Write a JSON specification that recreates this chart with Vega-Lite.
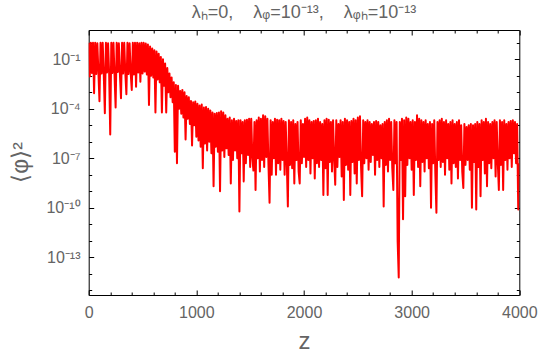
{
"$schema": "https://vega.github.io/schema/vega-lite/v6.json",
"autosize": "none",
"width": 430.6,
"height": 265,
"padding": {"left": 88.7, "top": 30, "right": 20.7, "bottom": 61},
"title": {"text": "λₕ=0,\u00a0\u00a0\u00a0\u00a0λᵩ=10⁻¹³,\u00a0\u00a0\u00a0\u00a0λᵩₕ=10⁻¹³", "fontSize": 18, "font": "Liberation Sans", "fontWeight": "normal", "color": "#646464", "offset": 8, "dx": 0},
"data": {"values": [
{"z":0,"v":1},{"z":10,"v":0.009},{"z":20,"v":1},{"z":30,"v":0.015},{"z":40,"v":1},{"z":50,"v":8.7e-4},{"z":60,"v":1},{"z":70,"v":0.013},{"z":80,"v":0.95},{"z":90,"v":0.018},
{"z":100,"v":2.9e-4},{"z":110,"v":1},{"z":120,"v":0.014},{"z":130,"v":1},{"z":140,"v":0.012},{"z":150,"v":5.4e-5},{"z":160,"v":1},{"z":170,"v":0.016},{"z":180,"v":0.95},{"z":190,"v":0.013},
{"z":200,"v":2.8e-6},{"z":210,"v":1},{"z":220,"v":0.015},{"z":230,"v":1},{"z":240,"v":0.011},{"z":250,"v":1.2e-4},{"z":260,"v":1},{"z":270,"v":0.017},{"z":280,"v":0.95},{"z":290,"v":0.012},
{"z":300,"v":4.4e-4},{"z":310,"v":1},{"z":320,"v":0.014},{"z":330,"v":1},{"z":340,"v":0.016},{"z":350,"v":7.6e-4},{"z":360,"v":1},{"z":370,"v":0.013},{"z":380,"v":0.95},{"z":390,"v":0.015},
{"z":400,"v":1.4e-3},{"z":410,"v":1},{"z":420,"v":0.012},{"z":430,"v":1},{"z":440,"v":2.2e-3},{"z":450,"v":1},{"z":460,"v":0.016},{"z":470,"v":0.95},{"z":480,"v":4.4e-3},{"z":490,"v":1},
{"z":500,"v":0.014},{"z":510,"v":1},{"z":520,"v":0.018},{"z":530,"v":0.9},{"z":540,"v":0.012},{"z":550,"v":0.8},{"z":560,"v":1.7e-4},{"z":570,"v":0.6},{"z":580,"v":0.01},{"z":590,"v":0.45},
{"z":600,"v":0.008},{"z":610,"v":0.35},{"z":620,"v":6e-5},{"z":630,"v":0.3},{"z":640,"v":0.006},{"z":650,"v":0.22},{"z":660,"v":0.004},{"z":670,"v":0.14},{"z":680,"v":6e-5},{"z":690,"v":0.1},
{"z":700,"v":0.0025},{"z":710,"v":0.056},{"z":720,"v":6e-5},{"z":730,"v":0.03},{"z":740,"v":0.001},{"z":750,"v":0.014},{"z":760,"v":5e-4},{"z":770,"v":0.008},{"z":780,"v":2.5e-4},{"z":790,"v":0.004},
{"z":800,"v":2.5e-7},{"z":810,"v":0.0028},{"z":820,"v":5e-8},{"z":830,"v":0.0025},{"z":840,"v":1e-4},{"z":850,"v":0.0012},{"z":860,"v":5e-5},{"z":870,"v":0.0014},{"z":880,"v":3e-5},{"z":890,"v":0.001},
{"z":900,"v":1.4e-6},{"z":910,"v":6e-4},{"z":920,"v":2.5e-5},{"z":930,"v":5e-4},{"z":940,"v":1.2e-5},{"z":950,"v":3e-4},{"z":960,"v":6e-7},{"z":970,"v":2.5e-4},{"z":980,"v":1e-5},{"z":990,"v":2.8e-4},
{"z":1000,"v":2e-6},{"z":1010,"v":2e-4},{"z":1020,"v":1.2e-6},{"z":1030,"v":1.6e-4},{"z":1040,"v":5e-7},{"z":1050,"v":1.8e-4},{"z":1060,"v":2.5e-8},{"z":1070,"v":1.2e-4},{"z":1080,"v":8e-7},{"z":1090,"v":1.3e-4},
{"z":1100,"v":3e-7},{"z":1110,"v":1e-4},{"z":1120,"v":1e-6},{"z":1130,"v":8e-5},{"z":1140,"v":2e-7},{"z":1150,"v":6e-5},{"z":1160,"v":2e-9},{"z":1170,"v":5e-5},{"z":1180,"v":5e-7},{"z":1190,"v":5.6e-5},
{"z":1200,"v":2.5e-7},{"z":1210,"v":6e-5},{"z":1220,"v":1e-9},{"z":1230,"v":7e-5},{"z":1240,"v":3e-7},{"z":1250,"v":6e-5},{"z":1260,"v":1.2e-7},{"z":1270,"v":4e-5},{"z":1280,"v":4e-7},{"z":1290,"v":2.5e-5},
{"z":1300,"v":1.6e-7},{"z":1310,"v":3e-5},{"z":1320,"v":3e-9},{"z":1330,"v":2e-5},{"z":1340,"v":8e-8},{"z":1350,"v":2.5e-5},{"z":1360,"v":3e-7},{"z":1370,"v":1.8e-5},{"z":1380,"v":1e-7},{"z":1390,"v":2e-5},
{"z":1400,"v":6e-11},{"z":1410,"v":2e-5},{"z":1420,"v":2e-7},{"z":1430,"v":1.6e-5},{"z":1440,"v":4e-9},{"z":1450,"v":2e-5},{"z":1460,"v":5e-8},{"z":1470,"v":2.2e-5},{"z":1480,"v":1.6e-7},{"z":1490,"v":2.5e-5},
{"z":1500,"v":3e-8},{"z":1510,"v":2.5e-5},{"z":1520,"v":1.2e-7},{"z":1530,"v":1.8e-8},{"z":1540,"v":1.6e-5},{"z":1550,"v":1.2e-9},{"z":1560,"v":2e-5},{"z":1570,"v":1e-7},{"z":1580,"v":3e-5},{"z":1590,"v":1.6e-8},
{"z":1600,"v":2.5e-5},{"z":1610,"v":8e-8},{"z":1620,"v":4e-5},{"z":1630,"v":3e-8},{"z":1640,"v":3.5e-5},{"z":1650,"v":1.2e-7},{"z":1660,"v":2.5e-5},{"z":1670,"v":4e-8},{"z":1680,"v":2e-10},{"z":1690,"v":2e-5},
{"z":1700,"v":1e-8},{"z":1710,"v":1.6e-5},{"z":1720,"v":1e-7},{"z":1730,"v":2.5e-5},{"z":1740,"v":1e-8},{"z":1750,"v":2.2e-5},{"z":1760,"v":5e-8},{"z":1770,"v":2e-5},{"z":1780,"v":2e-8},{"z":1790,"v":2.5e-5},
{"z":1800,"v":8e-8},{"z":1810,"v":1.8e-5},{"z":1820,"v":1e-8},{"z":1830,"v":1.6e-5},{"z":1840,"v":6e-8},{"z":1850,"v":1.2e-10},{"z":1860,"v":2e-5},{"z":1870,"v":4e-8},{"z":1880,"v":1.6e-5},{"z":1890,"v":2.5e-8},
{"z":1900,"v":2e-5},{"z":1910,"v":3e-9},{"z":1920,"v":1.2e-5},{"z":1930,"v":8e-8},{"z":1940,"v":1.6e-5},{"z":1950,"v":1.6e-8},{"z":1960,"v":3e-9},{"z":1970,"v":2e-5},{"z":1980,"v":5e-8},{"z":1990,"v":1.2e-5},
{"z":2000,"v":1.2e-7},{"z":2010,"v":2.5e-5},{"z":2020,"v":3e-8},{"z":2030,"v":3e-5},{"z":2040,"v":8e-8},{"z":2050,"v":2e-5},{"z":2060,"v":1.2e-8},{"z":2070,"v":1.6e-5},{"z":2080,"v":1e-7},{"z":2090,"v":1.8e-5},
{"z":2100,"v":6e-9},{"z":2110,"v":2e-5},{"z":2120,"v":5e-8},{"z":2130,"v":2.5e-5},{"z":2140,"v":3e-8},{"z":2150,"v":1.6e-5},{"z":2160,"v":8e-8},{"z":2170,"v":1.2e-5},{"z":2180,"v":6e-10},{"z":2190,"v":2e-5},
{"z":2200,"v":2.5e-8},{"z":2210,"v":2.5e-5},{"z":2220,"v":6e-10},{"z":2230,"v":2.2e-5},{"z":2240,"v":6e-8},{"z":2250,"v":1.6e-5},{"z":2260,"v":1.6e-8},{"z":2270,"v":2e-5},{"z":2280,"v":1e-7},{"z":2290,"v":2.5e-9},
{"z":2300,"v":2e-5},{"z":2310,"v":3e-8},{"z":2320,"v":1.2e-5},{"z":2330,"v":1.2e-7},{"z":2340,"v":2e-5},{"z":2350,"v":8e-9},{"z":2360,"v":1.6e-5},{"z":2370,"v":3e-10},{"z":2380,"v":2.5e-5},{"z":2390,"v":4e-8},
{"z":2400,"v":2e-5},{"z":2410,"v":2e-8},{"z":2420,"v":1.6e-5},{"z":2430,"v":6e-10},{"z":2440,"v":1.8e-5},{"z":2450,"v":6e-8},{"z":2460,"v":2.5e-5},{"z":2470,"v":1.2e-8},{"z":2480,"v":2e-5},{"z":2490,"v":3e-9},
{"z":2500,"v":3e-5},{"z":2510,"v":8e-8},{"z":2520,"v":3.5e-5},{"z":2530,"v":3e-8},{"z":2540,"v":5e-10},{"z":2550,"v":2e-5},{"z":2560,"v":5e-8},{"z":2570,"v":1.6e-5},{"z":2580,"v":1e-7},{"z":2590,"v":2e-5},
{"z":2600,"v":2e-8},{"z":2610,"v":1.6e-5},{"z":2620,"v":6e-8},{"z":2630,"v":1.2e-5},{"z":2640,"v":1.6e-7},{"z":2650,"v":1.6e-5},{"z":2660,"v":1e-8},{"z":2670,"v":1.8e-5},{"z":2680,"v":8e-8},{"z":2690,"v":1.6e-5},
{"z":2700,"v":3e-8},{"z":2710,"v":1e-5},{"z":2720,"v":1e-7},{"z":2730,"v":1.2e-5},{"z":2740,"v":1.2e-10},{"z":2750,"v":1.6e-5},{"z":2760,"v":4e-8},{"z":2770,"v":2e-5},{"z":2780,"v":1.6e-8},{"z":2790,"v":2.5e-5},
{"z":2800,"v":8e-8},{"z":2810,"v":1.6e-5},{"z":2820,"v":2.5e-8},{"z":2830,"v":1.2e-9},{"z":2840,"v":2e-5},{"z":2850,"v":5e-8},{"z":2860,"v":1.6e-5},{"z":2870,"v":9e-13},{"z":2880,"v":6e-15},{"z":2890,"v":1.6e-5},
{"z":2900,"v":8e-8},{"z":2910,"v":2.5e-5},{"z":2920,"v":2e-11},{"z":2930,"v":2e-5},{"z":2940,"v":5e-10},{"z":2950,"v":3e-5},{"z":2960,"v":4e-8},{"z":2970,"v":2.5e-5},{"z":2980,"v":1e-7},{"z":2990,"v":1.6e-5},
{"z":3000,"v":2e-8},{"z":3010,"v":2e-5},{"z":3020,"v":6e-10},{"z":3030,"v":1.6e-5},{"z":3040,"v":8e-8},{"z":3050,"v":4e-5},{"z":3060,"v":3e-8},{"z":3070,"v":2.5e-5},{"z":3080,"v":2e-9},{"z":3090,"v":2e-5},
{"z":3100,"v":6e-8},{"z":3110,"v":1.6e-5},{"z":3120,"v":1.6e-8},{"z":3130,"v":2e-5},{"z":3140,"v":1e-7},{"z":3150,"v":1.2e-5},{"z":3160,"v":2.5e-8},{"z":3170,"v":1.6e-5},{"z":3180,"v":1e-10},{"z":3190,"v":1.2e-5},
{"z":3200,"v":5e-8},{"z":3210,"v":2e-5},{"z":3220,"v":1.2e-8},{"z":3230,"v":5e-11},{"z":3240,"v":1.6e-5},{"z":3250,"v":8e-8},{"z":3260,"v":2e-5},{"z":3270,"v":3e-8},{"z":3280,"v":2.5e-5},{"z":3290,"v":6e-8},
{"z":3300,"v":1.6e-5},{"z":3310,"v":1e-8},{"z":3320,"v":2e-5},{"z":3330,"v":1e-7},{"z":3340,"v":1.2e-5},{"z":3350,"v":2e-8},{"z":3360,"v":1.6e-5},{"z":3370,"v":3e-9},{"z":3380,"v":2e-5},{"z":3390,"v":5e-8},
{"z":3400,"v":1.2e-5},{"z":3410,"v":3e-8},{"z":3420,"v":1.6e-5},{"z":3430,"v":6e-9},{"z":3440,"v":2e-5},{"z":3450,"v":8e-8},{"z":3460,"v":1e-5},{"z":3470,"v":1.6e-8},{"z":3480,"v":1.6e-9},{"z":3490,"v":1.2e-5},
{"z":3500,"v":4e-8},{"z":3510,"v":8e-6},{"z":3520,"v":8e-8},{"z":3530,"v":1e-5},{"z":3540,"v":2e-8},{"z":3550,"v":1.2e-5},{"z":3560,"v":1e-10},{"z":3570,"v":1e-5},{"z":3580,"v":6e-8},{"z":3590,"v":1.2e-5},
{"z":3600,"v":8e-11},{"z":3610,"v":1.6e-5},{"z":3620,"v":3e-8},{"z":3630,"v":1.2e-5},{"z":3640,"v":5e-10},{"z":3650,"v":2e-5},{"z":3660,"v":8e-8},{"z":3670,"v":1.6e-5},{"z":3680,"v":1.2e-8},{"z":3690,"v":2.5e-5},
{"z":3700,"v":2e-9},{"z":3710,"v":1.6e-5},{"z":3720,"v":5e-8},{"z":3730,"v":1.2e-5},{"z":3740,"v":2.5e-8},{"z":3750,"v":1.6e-5},{"z":3760,"v":1e-7},{"z":3770,"v":2e-5},{"z":3780,"v":8e-9},{"z":3790,"v":1.6e-5},
{"z":3800,"v":6e-8},{"z":3810,"v":1.2e-9},{"z":3820,"v":2e-5},{"z":3830,"v":4e-8},{"z":3840,"v":1.6e-5},{"z":3850,"v":1.2e-9},{"z":3860,"v":2e-5},{"z":3870,"v":8e-8},{"z":3880,"v":1.2e-5},{"z":3890,"v":2e-8},
{"z":3900,"v":1.6e-5},{"z":3910,"v":1e-7},{"z":3920,"v":1.8e-5},{"z":3930,"v":3e-8},{"z":3940,"v":2e-5},{"z":3950,"v":2e-7},{"z":3960,"v":1.6e-5},{"z":3970,"v":5e-8},{"z":3980,"v":1.2e-5},{"z":3990,"v":8e-11},
{"z":4000,"v":5e-8}
]},
"layer": [
{"mark": {"type": "line", "color": "#ff0000", "strokeWidth": 2, "strokeJoin": "round", "clip": true},
 "encoding": {
  "x": {"field": "z", "type": "quantitative", "scale": {"domain": [0, 4000], "nice": false, "zero": false},
        "axis": {"orient": "bottom", "values": [0, 1000, 2000, 3000, 4000], "format": "d", "tickSize": -5, "labelPadding": 14, "labelFlush": false, "title": "z", "titleFontSize": 24, "titleX": 215.3, "titleY": 53, "titleAlign": "center", "titleBaseline": "alphabetic"}},
  "y": {"field": "v", "type": "quantitative", "scale": {"type": "log", "domain": [5.2e-16, 5.97], "nice": false},
        "axis": {"orient": "left", "values": [0.1, 1e-4, 1e-7, 1e-10, 1e-13], "tickSize": -5, "labelPadding": 13.7, "labelFlush": false, "labelExpr": "['','10⁻¹','','','10⁻⁴','','','10⁻⁷','','','10⁻¹⁰','','','10⁻¹³'][round(-log(datum.value)/LN10)]", "title": "⟨φ⟩²", "titleFontSize": 23, "titleAngle": -90, "titleX": -68, "titleY": 132, "titleAlign": "center", "titleBaseline": "middle"}}
 }},
{"mark": {"type": "line", "strokeOpacity": 0},
 "encoding": {
  "x": {"field": "z", "type": "quantitative", "axis": {"orient": "bottom", "values": [200,400,600,800,1200,1400,1600,1800,2200,2400,2600,2800,3200,3400,3600,3800], "tickSize": -3, "labels": false, "title": null}},
  "y": {"field": "v", "type": "quantitative", "axis": {"orient": "left", "values": [1, 0.01, 1e-3, 1e-5, 1e-6, 1e-8, 1e-9, 1e-11, 1e-12, 1e-14, 1e-15], "tickSize": -3, "labels": false, "title": null}}
 }},
{"mark": {"type": "line", "strokeOpacity": 0},
 "encoding": {
  "x": {"field": "z", "type": "quantitative", "axis": {"orient": "top", "values": [0, 1000, 2000, 3000, 4000], "tickSize": -5, "labels": false, "title": null}},
  "y": {"field": "v", "type": "quantitative", "axis": {"orient": "right", "values": [0.1, 1e-4, 1e-7, 1e-10, 1e-13], "tickSize": -5, "labels": false, "title": null}}
 }},
{"mark": {"type": "line", "strokeOpacity": 0},
 "encoding": {
  "x": {"field": "z", "type": "quantitative", "axis": {"orient": "top", "values": [200,400,600,800,1200,1400,1600,1800,2200,2400,2600,2800,3200,3400,3600,3800], "tickSize": -3, "labels": false, "title": null}},
  "y": {"field": "v", "type": "quantitative", "axis": {"orient": "right", "values": [1, 0.01, 1e-3, 1e-5, 1e-6, 1e-8, 1e-9, 1e-11, 1e-12, 1e-14, 1e-15], "tickSize": -3, "labels": false, "title": null}}
 }}
],
"resolve": {"axis": {"x": "independent", "y": "independent"}},
"config": {
  "view": {"stroke": "#000000", "strokeWidth": 1},
  "axis": {"domain": false, "grid": false, "tickColor": "#000000", "tickWidth": 1, "labelColor": "#646464", "labelFont": "Liberation Sans", "labelFontSize": 16, "titleColor": "#646464", "titleFont": "Liberation Sans", "titleFontWeight": "normal"}
}
}
